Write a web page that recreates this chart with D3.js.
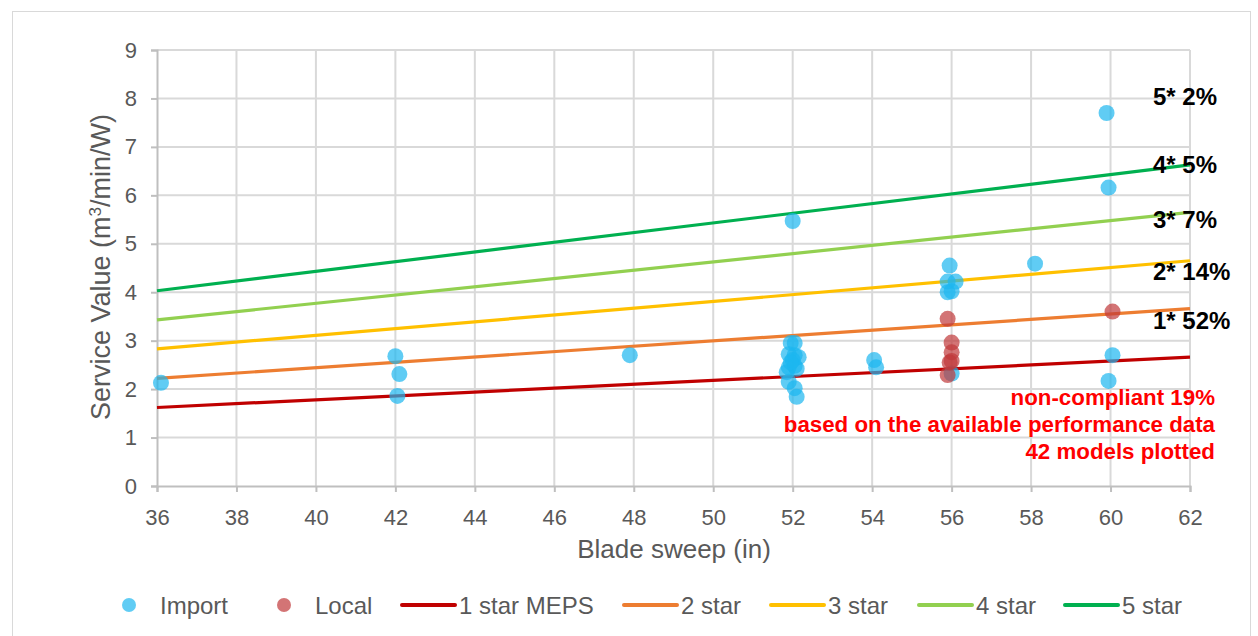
<!DOCTYPE html>
<html><head><meta charset="utf-8">
<script src="https://cdn.jsdelivr.net/npm/d3@7"></script>
<style>body{margin:0;background:#fff;font-family:"Liberation Sans",Arial,sans-serif}</style>
</head><body><svg id="c" width="1258" height="636"></svg>
<script>
const xTicks = [36,38,40,42,44,46,48,50,52,54,56,58,60,62];
const yTicks = [0,1,2,3,4,5,6,7,8,9];
const importX = [36.1,42.0,42.1,42.05,47.9,52.0,51.95,52.05,51.9,52.05,52.15,51.9,52.05,51.85,52.1,51.9,52.05,52.1,52.0,51.95,54.05,54.1,55.95,55.9,56.1,55.9,56.0,56.0,58.1,59.9,59.95,60.05,59.95];
const importY = [2.13,2.68,2.31,1.86,2.70,5.47,2.95,2.95,2.72,2.70,2.66,2.45,2.48,2.35,2.42,2.15,2.02,1.84,2.60,2.55,2.60,2.45,4.55,4.22,4.22,4.0,4.02,2.32,4.59,7.70,6.16,2.70,2.17];
const localX = [55.9,56.0,56.0,56.0,55.95,55.9,60.05];
const localY = [3.45,2.96,2.76,2.58,2.55,2.29,3.60];
const lineX = [36,62];
const star1 = [1.62,2.66];
const star2 = [2.22,3.66];
const star3 = [2.83,4.65];
const star4 = [3.43,5.65];
const star5 = [4.03,6.63];
const starNames = ["1 star MEPS","2 star","3 star","4 star","5 star"];
const starColors = ["#C00000","#ED7D31","#FFC000","#92D050","#00B050"];
const shareLabels = ["5* 2%","4* 5%","3* 7%","2* 14%","1* 52%"];
const shareY = [8.05,6.63,5.51,4.44,3.41];
const noteLines = ["non-compliant 19%","based on the available performance data","42 models plotted"];

const svg = d3.select("#c");
svg.append("rect").attr("x",12.5).attr("y",11.5).attr("width",1238).attr("height",640)
  .attr("fill","#fff").attr("stroke","#d9d9d9");
const x = d3.scaleLinear().domain([36,62]).range([157,1190]);
const y = d3.scaleLinear().domain([0,9]).range([486,50]);

// grid
svg.append("g").selectAll("line").data(xTicks.slice(1)).join("line")
  .attr("x1",d=>x(d)).attr("x2",d=>x(d)).attr("y1",y(0)).attr("y2",y(9))
  .attr("stroke","#d9d9d9").attr("stroke-width",2);
svg.append("g").selectAll("line").data(yTicks.slice(1)).join("line")
  .attr("x1",x(36)).attr("x2",x(62)).attr("y1",d=>y(d)).attr("y2",d=>y(d))
  .attr("stroke","#d9d9d9").attr("stroke-width",2);

// axes
const xa = svg.append("g").attr("transform",`translate(0,${y(0)})`)
  .call(d3.axisBottom(x).tickValues(xTicks).tickSize(6));
const ya = svg.append("g").attr("transform",`translate(${x(36)},0)`)
  .call(d3.axisLeft(y).tickValues(yTicks).tickSize(6).tickPadding(14));
[xa,ya].forEach(a=>{
  a.selectAll("path,line").attr("stroke","#bfbfbf").attr("stroke-width",2);
  a.selectAll("text").attr("fill","#595959").style("font-size","22px").style("font-family","Liberation Sans, Arial");
});
xa.selectAll("text").attr("y",23).attr("dy","0.71em");

svg.append("text").attr("x",674).attr("y",558).attr("text-anchor","middle")
  .attr("fill","#595959").style("font-size","26px").text("Blade sweep (in)");
const yt = svg.append("text").attr("transform",`translate(110,267) rotate(-90)`)
  .attr("text-anchor","middle").attr("fill","#595959").style("font-size","27px");
yt.append("tspan").text("Service Value (m");
yt.append("tspan").attr("dy",-9).style("font-size","17px").text("3");
yt.append("tspan").attr("dy",9).text("/min/W)");

// star lines
const stars = [star1,star2,star3,star4,star5];
const line = d3.line().x((d,i)=>x(lineX[i])).y(d=>y(d));
stars.forEach((s,i)=>{
  svg.append("path").attr("d",line(s)).attr("fill","none")
    .attr("stroke",starColors[i]).attr("stroke-width",3.2);
});

// points
const imp = importX.map((v,i)=>[v,importY[i]]);
const loc = localX.map((v,i)=>[v,localY[i]]);
svg.append("g").selectAll("circle").data(imp).join("circle")
  .attr("cx",d=>x(d[0])).attr("cy",d=>y(d[1])).attr("r",8)
  .attr("fill","#1DB6F0").attr("fill-opacity",0.7);
svg.append("g").selectAll("circle").data(loc).join("circle")
  .attr("cx",d=>x(d[0])).attr("cy",d=>y(d[1])).attr("r",8)
  .attr("fill","#C0393B").attr("fill-opacity",0.7);

// share labels
svg.append("g").selectAll("text").data(shareLabels).join("text")
  .attr("x",1153).attr("y",(d,i)=>y(shareY[i])).attr("dy","0.36em")
  .attr("fill","#000").style("font-size","24px").style("font-weight","bold").text(d=>d);
svg.append("g").selectAll("text").data(noteLines).join("text")
  .attr("x",1215).attr("y",(d,i)=>405+i*27).attr("text-anchor","end")
  .attr("fill","#FF0000").style("font-size","22.3px").style("font-weight","bold").text(d=>d);

// legend
const lg = svg.append("g");
const legItems = [
  {t:"Import",c:"#1DB6F0",x:129,tx:160},
  {t:"Local",c:"#C0393B",x:284,tx:315},
];
legItems.forEach(d=>{
  lg.append("circle").attr("cx",d.x).attr("cy",605).attr("r",7).attr("fill",d.c).attr("fill-opacity",0.7);
  lg.append("text").attr("x",d.tx).attr("y",614).attr("fill","#595959").style("font-size","24px").text(d.t);
});
const lineLegX = [402,624,771,919,1065];
starNames.forEach((n,i)=>{
  lg.append("line").attr("x1",lineLegX[i]).attr("x2",lineLegX[i]+53).attr("y1",605).attr("y2",605)
    .attr("stroke",starColors[i]).attr("stroke-width",4).attr("stroke-linecap","round");
  lg.append("text").attr("x",lineLegX[i]+57).attr("y",614).attr("fill","#595959").style("font-size","24px").text(n);
});
</script></body></html>
